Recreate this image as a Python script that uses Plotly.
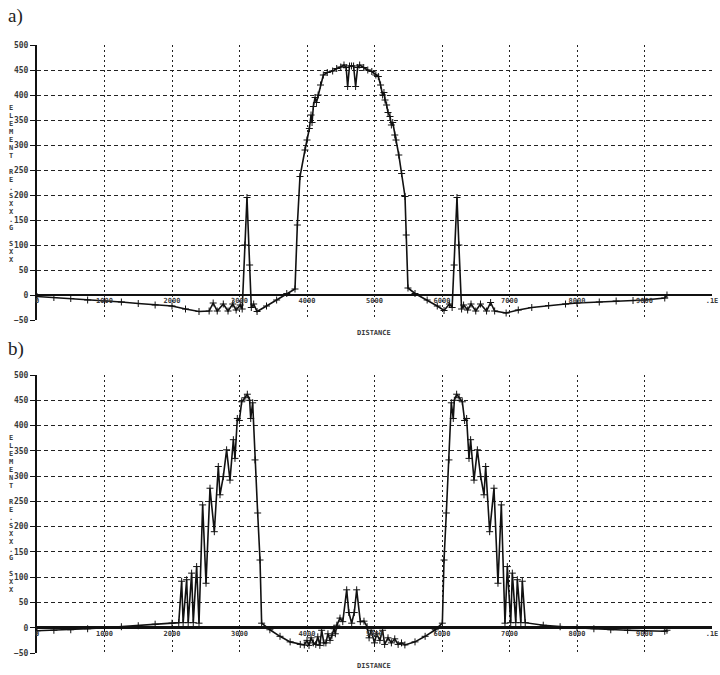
import plotly.graph_objects as go

# ---------------- data ----------------
a_x = [0, 250, 500, 750, 1000, 1250, 1500, 1750, 2000, 2200, 2400, 2550, 2610, 2670, 2760, 2830,
       2900, 2950, 3010, 3040, 3080, 3111, 3150, 3175, 3210, 3260, 3400, 3550, 3700, 3822, 3857,
       3896, 3970, 4000, 4035, 4060, 4075, 4094, 4120, 4140, 4165, 4200, 4242, 4300, 4380, 4440,
       4500, 4548, 4580, 4602, 4630, 4660, 4690, 4720, 4750, 4780, 4840, 4900, 4960, 5020, 5057,
       5090, 5120, 5140, 5156, 5180, 5200, 5230, 5250, 5270, 5300, 5319, 5360, 5402, 5452, 5470,
       5496, 5600, 5780, 5930, 6030, 6110, 6150, 6180, 6222, 6250, 6290, 6320, 6380, 6430, 6500,
       6570, 6660, 6720, 6780, 6950, 7130, 7330, 7580, 7830, 8000, 8330, 8580, 8830, 9000, 9300, 9333]
a_y = [-3, -5, -7, -10, -12, -14, -17, -20, -22, -28, -33, -32, -16, -32, -18, -32,
       -18, -30, -20, -28, 100, 195, 60, -25, -18, -33, -22, -10, 3, 12, 140,
       237, 290, 310, 333, 360, 345, 377, 395, 385, 400, 420, 440, 445, 448, 453,
       456, 460, 455, 417, 458, 458, 458, 417, 455, 460, 455, 450, 447, 440, 437,
       420, 400, 405, 390, 380, 365, 357, 340, 345, 320, 310, 280, 243, 197, 120,
       14, 3, -10, -22, -31, -18, -25, 60, 195, 100, -28, -20, -30, -18, -32,
       -18, -32, -15, -32, -36, -30, -25, -21, -18, -16, -14, -12, -11, -10, -6, 0]

b_x = [0, 250, 500, 750, 1000, 1250, 1500, 1750, 2000, 2100, 2143, 2165, 2217, 2240, 2291, 2315,
       2365, 2400, 2454, 2504, 2563, 2627, 2686, 2711, 2760, 2809, 2859, 2909, 2933, 2968, 2998,
       3032, 3080, 3116, 3150, 3166, 3195, 3230, 3269, 3304, 3328, 3450, 3600, 3750, 3900, 3960,
       4000, 4030, 4060, 4094, 4130, 4160, 4190, 4217, 4250, 4280, 4310, 4341, 4370, 4400, 4420,
       4442, 4489, 4530, 4588, 4620, 4662, 4700, 4736, 4790, 4844, 4890, 4920, 4950, 5000, 5030,
       5080, 5120, 5150, 5200, 5250, 5300, 5350, 5400, 5450, 5600, 5750, 5900, 6005, 6030, 6064,
       6103, 6138, 6167, 6183, 6217, 6253, 6301, 6335, 6365, 6400, 6424, 6474, 6524, 6573, 6622,
       6647, 6706, 6770, 6829, 6879, 6933, 6968, 7018, 7042, 7093, 7116, 7168, 7190, 7233, 7500,
       7750, 8000, 8250, 8500, 8750, 9000, 9300, 9333]
b_y = [-6, -5, -4, -2, 0, 2, 4, 7, 9, 10, 92, 10, 95, 10, 108, 10,
       121, 9, 243, 88, 276, 190, 319, 263, 299, 352, 292, 372, 335, 414, 410,
       447, 455, 462, 450, 414, 445, 332, 227, 134, 9, -4, -17, -28, -33, -34,
       -25, -35, -20, -30, -33, -18, -35, -5, -30, -30, -12, -25, -15, -2, -12,
       5, 19, 12, 75, 30, 9, 30, 75, 12, 13, 2, -20, -5, -30, -12,
       -25, -5, -33, -20, -30, -22, -33, -30, -34, -28, -17, -4, 9, 134, 227,
       332, 445, 414, 450, 462, 455, 447, 410, 414, 335, 372, 292, 352, 299, 263,
       319, 190, 276, 88, 243, 9, 121, 10, 108, 10, 95, 10, 92, 10, 5,
       2, 0, -2, -4, -5, -6, -7, -5]

x_tickvals = [0, 1000, 2000, 3000, 4000, 5000, 6000, 7000, 8000, 9000, 10000]
x_ticktext = ["0", "1000", "2000", "3000", "4000", "5000", "6000", "7000", "8000", "9000", ".1E"]
y_tickvals = [-50, 0, 50, 100, 150, 200, 250, 300, 350, 400, 450, 500]
y_title = "ELEMENT RE.SXX.G SXX"
x_title = "DISTANCE"
panel_labels = ["a)", "b)"]

# ---------------- layout geometry ----------------
W, H = 720, 675
def px(x):
    return x / W
def py(y):
    return 1 - y / H

X_DOM = [px(37), px(712)]
Y_DOMS = [[py(320), py(45)], [py(653), py(375)]]
Y_RANGE = [-50, 500]
X_RANGE = [0, 10000]
TITLE_TOP = [108, 438]
DIST_Y = [333, 666]
LABEL_Y = [16, 349]

MONO = "DejaVu Sans Mono"
INK = "#111111"
TXT = "#3a3a3a"

fig = go.Figure()
series = [(a_x, a_y), (b_x, b_y)]
layout = dict(
    width=W, height=H, margin=dict(l=0, r=0, t=0, b=0),
    paper_bgcolor="white", plot_bgcolor="white", showlegend=False,
)
annotations = []
for i, (xs, ys) in enumerate(series):
    n = "" if i == 0 else str(i + 1)
    fig.add_trace(go.Scatter(
        x=xs, y=ys, mode="lines+markers", xaxis="x" + n, yaxis="y" + n,
        line=dict(color=INK, width=1.6),
        marker=dict(symbol="cross-thin", size=5, line=dict(color=INK, width=1)),
        hoverinfo="skip",
    ))
    d0, d1 = Y_DOMS[i]
    zero_pos = d0 + (0 - Y_RANGE[0]) / (Y_RANGE[1] - Y_RANGE[0]) * (d1 - d0)
    layout["xaxis" + n] = dict(
        domain=X_DOM, range=X_RANGE, anchor="free", position=zero_pos,
        tickvals=x_tickvals, ticktext=x_ticktext, ticks="",
        showline=False, zeroline=False,
        showgrid=True, gridcolor="#222222", gridwidth=1, griddash="2px,3px",
        tickfont=dict(family=MONO, size=7, color=TXT, weight="bold"),
        automargin=False, fixedrange=True,
    )
    layout["yaxis" + n] = dict(
        domain=Y_DOMS[i], range=Y_RANGE, anchor="x" + n,
        tickvals=y_tickvals, ticks="outside", ticklen=5, tickcolor=INK, tickwidth=1,
        showline=True, linecolor=INK, linewidth=2,
        zeroline=True, zerolinecolor=INK, zerolinewidth=2.5,
        showgrid=True, gridcolor="#222222", gridwidth=1, griddash="4px,3px",
        tickfont=dict(family=MONO, size=8, color=TXT, weight="bold"),
        automargin=False, fixedrange=True,
    )
    # stacked vertical y title
    for k, ch in enumerate(y_title):
        if ch == " ":
            continue
        annotations.append(dict(
            text=ch, x=px(11), y=py(TITLE_TOP[i] + k * 8), xref="paper", yref="paper",
            showarrow=False, xanchor="center", yanchor="middle",
            font=dict(family=MONO, size=7, color=TXT, weight="bold"),
        ))
    annotations.append(dict(
        text=x_title, x=px(374), y=py(DIST_Y[i]), xref="paper", yref="paper",
        showarrow=False, xanchor="center", yanchor="middle",
        font=dict(family=MONO, size=7, color=TXT, weight="bold"),
    ))
    annotations.append(dict(
        text=panel_labels[i], x=px(6), y=py(LABEL_Y[i]), xref="paper", yref="paper",
        showarrow=False, xanchor="left", yanchor="middle",
        font=dict(family="Liberation Serif", size=19, color="#222222"),
    ))

layout["annotations"] = annotations
fig.update_layout(**layout)
fig.write_html(
    "out.html",
    config={"displayModeBar": False, "staticPlot": True},
    post_script="document.body.style.margin='0';document.body.style.overflow='hidden';",
)
